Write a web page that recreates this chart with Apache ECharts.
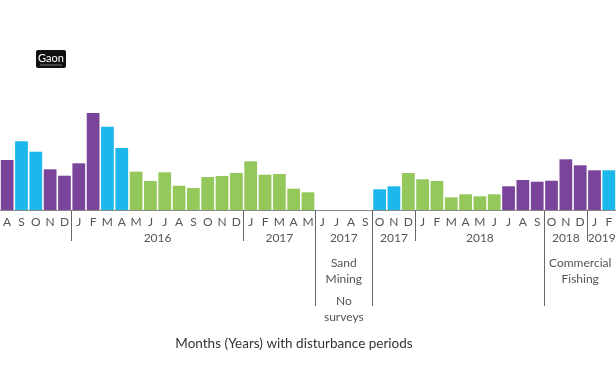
<!DOCTYPE html>
<html>
<head>
<meta charset="utf-8">
<script src="https://cdn.jsdelivr.net/npm/echarts@6/dist/echarts.min.js"></script>
<style>html,body{margin:0;padding:0;background:#fff;}#c{width:616px;height:370px;}</style>
</head>
<body>
<div id="c"></div>
<script>
const months = ['A','S','O','N','D','J','F','M','A','M','J','J','A','S','O','N','D','J','F','M','A','M','J','J','A','S','O','N','D','J','F','M','A','M','J','J','A','S','O','N','D','J','F'];
const values = [50,68.7,58.3,40.7,34.3, 46.7,97,83.3,62,38.3,29,37.7,24.3,22,33,34,37, 48.7,35.3,36,21.3,17.7, null,null,null,null, 20.7,23.7,37, 30.7,29,12.7,15.7,13.7,15.7,23.7,30,28.3, 29.3,50.7,44.7, 39.7,39.7];
const groups = ['P','C','C','P','P', 'P','P','C','C','G','G','G','G','G','G','G','G', 'G','G','G','G','G', '-','-','-','-', 'C','C','G', 'G','G','G','G','G','G','P','P','P', 'P','P','P', 'P','C'];
const yearGroups = [['2016',5,16],['2017',17,21],['2017',22,25],['2017',26,28],['2018',29,37],['2018',38,40],['2019',41,42]];
const shortBounds = [5,17,29,41];
const longBounds = [22,26,38];
const notes = [['Sand\nMining',22,25,271],['No\nsurveys',22,25,309],['Commercial\nFishing',38,42,271]];
const titleText = 'Months (Years) with disturbance periods';

const palette = {P:'#7a449a', C:'#1cb7eb', G:'#95c85b', '-':'#fff'};
const chart = echarts.init(document.getElementById('c'), null, {renderer:'canvas'});
const font = 'Lato';
function tickAxis(bounds, len){
  return {type:'category', data: months, position:'bottom', gridIndex:0,
    axisLine:{show:false}, axisLabel:{show:false},
    axisTick:{show:true, length:len, lineStyle:{color:'#666', width:1},
      interval:function(i){ return bounds.indexOf(i) >= 0; }}};
}
chart.setOption({
  animation:false,
  textStyle:{fontFamily:font},
  grid:{left:0, right:0, top:10, bottom:160},
  xAxis:[
    {type:'category', data: months, position:'bottom',
     axisLine:{show:true, lineStyle:{color:'#8a8a8a', width:1}},
     axisTick:{show:false},
     axisLabel:{interval:0, margin:6, fontSize:12, color:'#555', fontFamily:font}},
    tickAxis(shortBounds, 31),
    tickAxis(longBounds, 96)
  ],
  yAxis:{type:'value', min:0, max:200, show:false},
  series:[{type:'bar', barCategoryGap:'11%',
    data: values.map((v,i)=>({value:v, itemStyle:{color:palette[groups[i]]}}))}]
});

const px = i => chart.convertToPixel({xAxisIndex:0}, i);
const g = [];
yearGroups.forEach(([t,a,b])=>{
  g.push({type:'text', x:(px(a)+px(b))/2, y:238, style:{text:t, fontSize:12, fill:'#555', fontFamily:font, align:'center', verticalAlign:'middle'}});
});
notes.forEach(([t,a,b,y])=>{
  g.push({type:'text', x:(px(a)+px(b))/2, y:y, style:{text:t, fontSize:12, lineHeight:16, fill:'#555', fontFamily:font, align:'center', verticalAlign:'middle'}});
});
g.push({type:'text', x:294, y:344, style:{text:titleText, fontSize:13.5, fill:'#333', fontFamily:font, align:'center', verticalAlign:'middle'}});
g.push({type:'rect', shape:{x:36, y:50, width:30, height:18, r:2}, style:{fill:'#111'}});
g.push({type:'text', x:51, y:58, style:{text:'Gaon', fontSize:11, fill:'#fff', fontFamily:font, align:'center', verticalAlign:'middle'}});
g.push({type:'rect', shape:{x:40, y:64.5, width:22, height:1}, style:{fill:'#777'}});
chart.setOption({graphic:g});
</script>
</body>
</html>
